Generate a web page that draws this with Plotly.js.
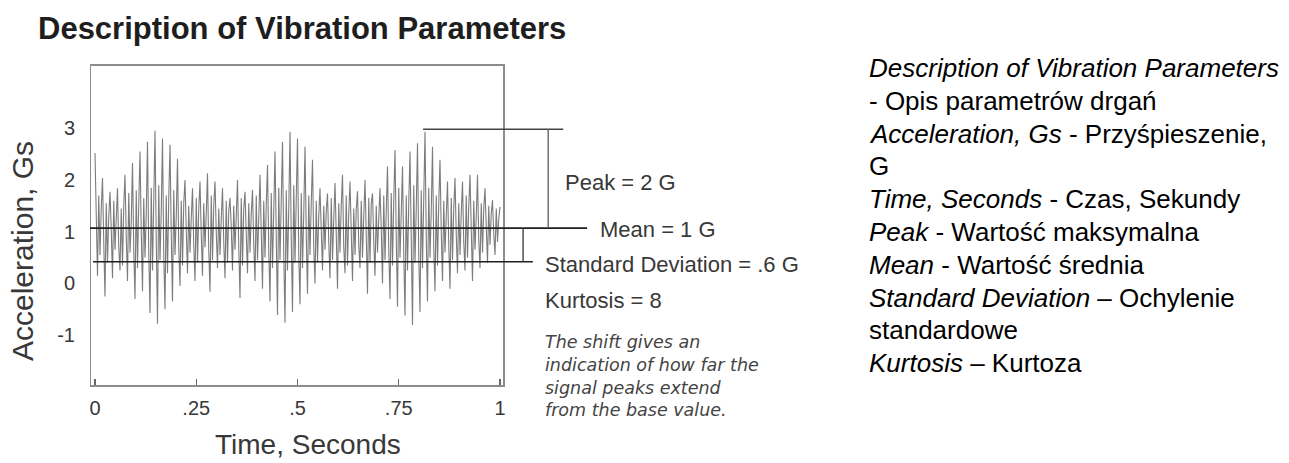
<!DOCTYPE html>
<html><head><meta charset="utf-8">
<script src="https://cdn.plot.ly/plotly-3.0.1.min.js"></script>
<style>html,body{margin:0;padding:0;background:#fff;} #chart{width:1289px;height:463px;}</style>
</head><body><div id="chart"></div>
<script>
// ---- data ----
const sampleInterval = 1 / 324;           // seconds between samples
const acceleration = [
  2.52, 0.95, 0.15, 1.70, 0.55, 1.45,   2.04, 0.80, -0.25, 1.55, 0.40, 1.30,
  1.77, 1.05, 0.10, 1.60, 0.65, 1.25,   1.84, 0.70, 0.25, 1.45, 0.35, 1.50,
  2.10, 0.90, 0.05, 1.75, 0.60, 1.20,   2.33, 0.65, -0.30, 1.80, 0.30, 1.55,
  2.55, 1.00, -0.15, 1.65, 0.50, 1.35,  2.74, 0.60, -0.57, 1.85, 0.25, 1.60,
  2.95, 0.85, -0.78, 1.90, 0.45, 1.40,  2.80, 0.55, -0.50, 1.70, 0.20, 1.65,
  2.68, 0.95, -0.35, 1.80, 0.55, 1.30,  2.41, 0.70, -0.05, 1.60, 0.35, 1.55,
  2.00, 1.05, 0.20, 1.50, 0.60, 1.25,   1.84, 0.75, 0.05, 1.65, 0.40, 1.45,
  1.97, 0.95, 0.15, 1.55, 0.70, 1.35,   2.13, 0.65, -0.16, 1.70, 0.45, 1.50,
  1.97, 1.00, 0.30, 1.45, 0.55, 1.25,   1.84, 0.80, 0.10, 1.60, 0.40, 1.40,
  1.65, 1.10, 0.25, 1.50, 0.65, 1.30,   2.00, 0.70, -0.28, 1.65, 0.35, 1.45,
  1.77, 0.95, 0.20, 1.55, 0.60, 1.35,   1.81, 0.75, 0.05, 1.70, 0.45, 1.25,
  2.10, 1.00, -0.10, 1.60, 0.50, 1.50,  2.29, 0.65, -0.35, 1.75, 0.30, 1.40,
  2.55, 0.90, -0.61, 1.85, 0.45, 1.60,  2.74, 0.60, -0.76, 1.80, 0.25, 1.45,
  2.93, 0.85, -0.55, 1.90, 0.40, 1.65,  2.80, 0.55, -0.40, 1.75, 0.30, 1.35,
  2.64, 0.95, -0.20, 1.70, 0.55, 1.55,  2.39, 0.70, 0.00, 1.60, 0.40, 1.30,
  1.84, 1.05, 0.25, 1.50, 0.65, 1.40,   1.74, 0.80, 0.10, 1.65, 0.45, 1.25,
  1.94, 0.95, -0.10, 1.55, 0.60, 1.50,  2.10, 0.70, 0.20, 1.70, 0.35, 1.35,
  1.97, 1.00, 0.05, 1.45, 0.55, 1.45,   1.78, 0.75, 0.30, 1.60, 0.50, 1.30,
  2.00, 0.95, -0.20, 1.65, 0.40, 1.55,  1.74, 0.80, 0.15, 1.50, 0.60, 1.25,
  1.84, 1.05, 0.00, 1.70, 0.45, 1.40,   2.26, 0.65, -0.30, 1.75, 0.35, 1.60,
  2.58, 0.90, -0.45, 1.85, 0.50, 1.35,  2.26, 0.60, -0.62, 1.70, 0.25, 1.55,
  2.55, 0.85, -0.80, 1.90, 0.40, 1.45,  2.71, 0.55, -0.55, 1.80, 0.30, 1.65,
  2.93, 0.90, -0.35, 1.85, 0.50, 1.40,  2.64, 0.70, -0.15, 1.70, 0.35, 1.55,
  2.39, 1.00, 0.05, 1.60, 0.60, 1.30,   1.97, 0.75, -0.10, 1.65, 0.45, 1.45,
  2.04, 0.95, 0.20, 1.55, 0.55, 1.35,   1.97, 0.80, 0.25, 1.70, 0.50, 1.50,
  2.10, 1.05, 0.05, 1.60, 0.65, 1.30,   2.10, 0.85, 0.30, 1.55, 0.60, 1.45,
  1.84, 1.10, 0.40, 1.50, 0.75, 1.35,   1.61, 0.95, 0.55, 1.45, 0.80, 1.25,
  1.48
];
const xTickVals = [0, 0.25, 0.5, 0.75, 1];
const xTickText = ['0', '.25', '.5', '.75', '1'];
const yTickVals = [-1, 0, 1, 2, 3];
const yTickText = ['-1', '0', '1', '2', '3'];
const peakLevel = 2.98;     // drawn peak line
const meanLevel = 1.07;     // drawn mean line
const lowerLevel = 0.42;    // mean - standard deviation line
const statLabels = ['Peak = 2 G', 'Mean = 1 G', 'Standard Deviation = .6 G', 'Kurtosis = 8'];
const noteLines = ['The shift gives an', 'indication of how far the', 'signal peaks extend', 'from the base value.'];
const glossaryLines = [
  '<i>Description of Vibration Parameters</i>',
  '- Opis parametrów drgań',
  '<i>Acceleration, Gs</i> - Przyśpieszenie,',
  'G',
  '<i>Time, Seconds</i> - Czas, Sekundy',
  '<i>Peak</i> - Wartość maksymalna',
  '<i>Mean</i> - Wartość średnia',
  '<i>Standard Deviation</i> – Ochylenie',
  'standardowe',
  '<i>Kurtosis</i> – Kurtoza'
];
const chartTitle = 'Description of Vibration Parameters';
const xTitle = 'Time, Seconds';
const yTitle = 'Acceleration, Gs';

// ---- layout geometry ----
const W = 1289, H = 463, ML = 90, MR = 485, MT = 65, MB = 77;
const PW = W - ML - MR, PH = H - MT - MB;
const xRange = [-0.01235, 1.7506];
const yRange = [-1.981, 4.222];
const frameRight = 1.0099;
const px = v => (v - ML) / PW;
const py = v => (H - MB - v) / PH;

const time = acceleration.map((_, i) => i * sampleInterval);

const sans = '"Liberation Sans", Arial, sans-serif';
const txtColor = '#383838';

const trace = {
  x: time, y: acceleration, type: 'scatter', mode: 'lines',
  line: {color: '#7c7c7c', width: 1.1}, hoverinfo: 'skip'
};

const shapes = [
  {type: 'rect', xref: 'x', yref: 'paper', x0: xRange[0], x1: frameRight, y0: 0, y1: 1,
   line: {color: '#8c8c8c', width: 2}},
  {type: 'line', xref: 'x', yref: 'y', x0: xRange[0], x1: 1.215, y0: meanLevel, y1: meanLevel,
   line: {color: '#1e1e1e', width: 1.6}},
  {type: 'line', xref: 'x', yref: 'y', x0: -0.005, x1: 1.081, y0: lowerLevel, y1: lowerLevel,
   line: {color: '#1e1e1e', width: 1.6}},
  {type: 'line', xref: 'x', yref: 'y', x0: 1.057, x1: 1.057, y0: meanLevel, y1: lowerLevel,
   line: {color: '#444', width: 1.4}},
  {type: 'line', xref: 'x', yref: 'y', x0: 0.81, x1: 1.156, y0: peakLevel, y1: peakLevel,
   line: {color: '#444', width: 1.6}},
  {type: 'line', xref: 'x', yref: 'y', x0: 1.119, x1: 1.119, y0: peakLevel, y1: meanLevel,
   line: {color: '#666', width: 1.4}}
];

const ann = [];
ann.push({xref: 'paper', yref: 'paper', x: px(36), y: py(29), xanchor: 'left', yanchor: 'middle',
  text: '<b>' + chartTitle + '</b>', showarrow: false,
  font: {family: sans, size: 31, color: '#1e1e1e'}});
ann.push({xref: 'paper', yref: 'paper', x: px(308), y: py(445), xanchor: 'center', yanchor: 'middle',
  text: xTitle, showarrow: false, font: {family: sans, size: 28, color: txtColor}});
ann.push({xref: 'paper', yref: 'paper', x: px(22), y: py(251), xanchor: 'center', yanchor: 'middle',
  text: yTitle, textangle: -90, showarrow: false, font: {family: sans, size: 30, color: txtColor}});
const statPos = [[563, 182], [598, 230], [543, 264], [543, 300]];
statLabels.forEach((t, i) => ann.push({xref: 'paper', yref: 'paper', x: px(statPos[i][0]), y: py(statPos[i][1]),
  xanchor: 'left', yanchor: 'middle', text: t, showarrow: false,
  font: {family: sans, size: 22, color: txtColor}}));
ann.push({xref: 'paper', yref: 'paper', x: px(543), y: py(376), xanchor: 'left', yanchor: 'middle',
  align: 'left', text: noteLines.join('<br>'), showarrow: false,
  font: {family: '"DejaVu Sans", sans-serif', size: 17.5, style: 'italic', color: '#444'}});
glossaryLines.forEach((t, i) => ann.push({xref: 'paper', yref: 'paper', x: px(867), y: py(68 + i * 32.8),
  xanchor: 'left', yanchor: 'middle', text: t, showarrow: false,
  font: {family: sans, size: 26, color: '#000'}}));

const layout = {
  width: W, height: H, margin: {l: ML, r: MR, t: MT, b: MB, pad: 0},
  paper_bgcolor: '#fff', plot_bgcolor: '#fff', showlegend: false,
  xaxis: {range: xRange, tickvals: xTickVals, ticktext: xTickText, ticks: 'inside', ticklen: 7,
    tickcolor: '#666', tickwidth: 1.3, showgrid: false, zeroline: false, showline: false,
    ticklabelstandoff: 8, tickfont: {family: sans, size: 20, color: txtColor}},
  yaxis: {range: yRange, tickvals: yTickVals, ticktext: yTickText, ticks: '', showgrid: false,
    zeroline: false, showline: false, ticklabelstandoff: 14,
    tickfont: {family: sans, size: 20, color: txtColor}},
  shapes: shapes, annotations: ann
};

Plotly.newPlot('chart', [trace], layout, {displayModeBar: false, staticPlot: true});
</script></body></html>
